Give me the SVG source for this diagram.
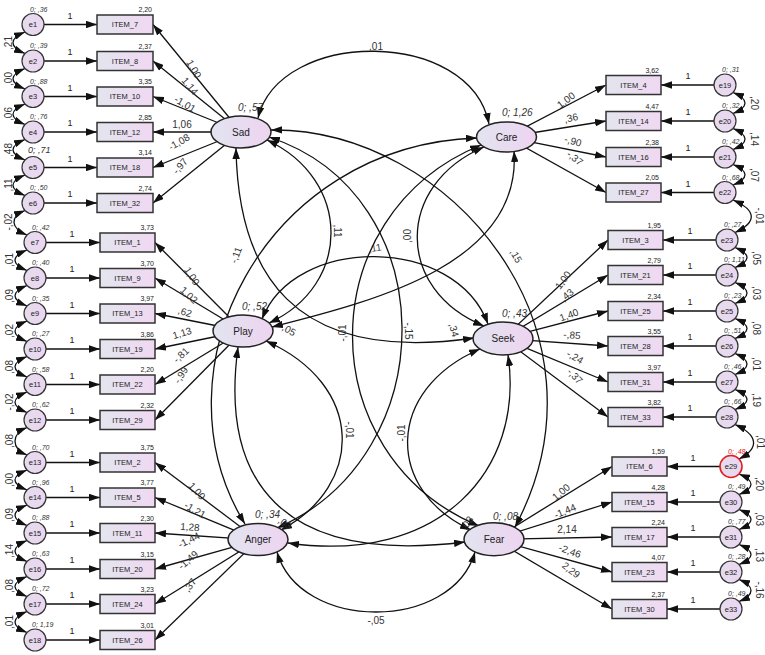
<svg xmlns="http://www.w3.org/2000/svg" width="765" height="655" viewBox="0 0 765 655">
<style>
.t{font-family:"Liberation Sans",Arial,sans-serif;fill:#222}
.it{font-size:7.5px;text-anchor:middle}
.ic{font-size:7px;text-anchor:end}
.en{font-size:7.5px;text-anchor:middle}
.ev{font-size:7px;font-style:italic;fill:#333}
.lv{font-size:10px;font-style:italic;fill:#333}
.ln{font-size:10px;text-anchor:middle}
.lb{font-size:10px;text-anchor:middle;fill:#333}
.one{font-size:9px;text-anchor:middle}
.item{fill:url(#gi);stroke:#333;stroke-width:1.5}
.lat{fill:url(#gl);stroke:#222;stroke-width:1.5}
.err{fill:url(#ge);stroke:#333;stroke-width:1.2}
.c{fill:none;stroke:#111;stroke-width:1.3;marker-end:url(#ah)}
.cv{fill:none;stroke:#111;stroke-width:1.3;marker-start:url(#ah);marker-end:url(#ah)}
</style>
<defs>
<linearGradient id="gi" x1="0" x2="1" y1="0" y2="0"><stop offset="0" stop-color="#e3e5ee"/><stop offset="1" stop-color="#f0d8f2"/></linearGradient>
<linearGradient id="gl" x1="0" x2="1" y1="0" y2="0"><stop offset="0" stop-color="#e2e4f0"/><stop offset="1" stop-color="#eed4f0"/></linearGradient>
<linearGradient id="ge" x1="0" x2="1" y1="0" y2="0"><stop offset="0" stop-color="#e4dcee"/><stop offset="1" stop-color="#ecd6f0"/></linearGradient>
<marker id="ah" viewBox="0 0 11 7.5" refX="11" refY="3.75" markerWidth="11" markerHeight="7.5" markerUnits="userSpaceOnUse" orient="auto-start-reverse"><path d="M0,0L11,3.75L0,7.5z" fill="#111"/></marker>
</defs>
<rect width="765" height="655" fill="#fff"/>
<g id="connectors">
<path class="c" d="M241,132L153,24.5"/><path class="c" d="M241,132L153,61"/><path class="c" d="M241,132L153,96.5"/><path class="c" d="M241,132L153,132"/><path class="c" d="M241,132L153,167.5"/><path class="c" d="M241,132L153,203"/>
<path class="c" d="M243,331L155,242.5"/><path class="c" d="M243,331L155,278"/><path class="c" d="M243,331L155,313.5"/><path class="c" d="M243,331L155,349"/><path class="c" d="M243,331L155,384.5"/><path class="c" d="M243,331L155,420"/>
<path class="c" d="M258,540L155,462.5"/><path class="c" d="M258,540L155,497.5"/><path class="c" d="M258,540L155,533"/><path class="c" d="M258,540L155,569"/><path class="c" d="M258,540L155,604"/><path class="c" d="M258,540L155,640"/>
<path class="c" d="M506.5,137L606,85"/><path class="c" d="M506.5,137L606,121"/><path class="c" d="M506.5,137L606,157"/><path class="c" d="M506.5,137L606,192.5"/>
<path class="c" d="M503,338.5L608,240"/><path class="c" d="M503,338.5L608,275"/><path class="c" d="M503,338.5L608,311"/><path class="c" d="M503,338.5L608,346"/><path class="c" d="M503,338.5L608,382"/><path class="c" d="M503,338.5L608,417"/>
<path class="c" d="M494,539.3L612,466.5"/><path class="c" d="M494,539.3L612,502"/><path class="c" d="M494,539.3L612,537"/><path class="c" d="M494,539.3L612,572"/><path class="c" d="M494,539.3L612,609"/>
<path class="c" d="M44,24.5L97,24.5"/><path class="c" d="M44,61L97,61"/><path class="c" d="M44,96.5L97,96.5"/><path class="c" d="M44,132L97,132"/><path class="c" d="M44,167.5L97,167.5"/><path class="c" d="M44,203L97,203"/>
<path class="c" d="M46,242.5L100,242.5"/><path class="c" d="M46,278L100,278"/><path class="c" d="M46,313.5L100,313.5"/><path class="c" d="M46,349L100,349"/><path class="c" d="M46,384.5L100,384.5"/><path class="c" d="M46,420L100,420"/>
<path class="c" d="M46,462.5L100,462.5"/><path class="c" d="M46,497.5L100,497.5"/><path class="c" d="M46,533L100,533"/><path class="c" d="M46,569L100,569"/><path class="c" d="M46,604L100,604"/><path class="c" d="M46,640L100,640"/>
<path class="c" d="M714,85L661,85"/><path class="c" d="M714,121L661,121"/><path class="c" d="M714,157L661,157"/><path class="c" d="M714,192.5L661,192.5"/>
<path class="c" d="M716,240L663,240"/><path class="c" d="M716,275L663,275"/><path class="c" d="M716,311L663,311"/><path class="c" d="M716,346L663,346"/><path class="c" d="M716,382L663,382"/><path class="c" d="M716,417L663,417"/>
<path class="c" d="M720,466.5L667,466.5"/><path class="c" d="M720,502L667,502"/><path class="c" d="M720,537L667,537"/><path class="c" d="M720,572L667,572"/><path class="c" d="M720,609L667,609"/>
<path class="cv" d="M258,118C280,28 470,28 489,124"/>
<path class="cv" d="M277,552C300,632 452,632 475,552"/>
<path class="cv" d="M267,140C352,180 352,285 269,323"/>
<path class="cv" d="M484,147C395,185 395,290 484,326"/>
<path class="cv" d="M266,341C365,385 365,485 281,530"/>
<path class="cv" d="M480,349C385,390 385,490 471,530"/>
<path class="cv" d="M269,137C445,195 445,455 277,528"/>
<path class="cv" d="M481,145C310,215 310,455 479,526"/>
<path class="cv" d="M262,319C295,235 455,235 488,324"/>
<path class="cv" d="M236,148C238,270 290,365 474,338"/>
<path class="cv" d="M514,151C522,262 380,300 272,327"/>
<path class="cv" d="M238,347C220,480 280,565 465,542"/>
<path class="cv" d="M508,355C525,470 440,565 288,543"/>
<path class="cv" d="M271,130C450,128 620,330 515,527"/>
<path class="cv" d="M477,138C265,145 150,370 245,524"/>
<path class="cv" d="M25,32C9,38.5 9,47 25,53.5"/>
<path class="cv" d="M25,68.5C9,75 9,82.5 25,89"/>
<path class="cv" d="M25,104C9,110.5 9,118 25,124.5"/>
<path class="cv" d="M25,139.5C9,146 9,153.5 25,160"/>
<path class="cv" d="M25,175C9,181.5 9,189 25,195.5"/>
<path class="cv" d="M25,210.5C9,217 11,228.5 27,235"/>
<path class="cv" d="M27,250C11,256.5 11,264 27,270.5"/>
<path class="cv" d="M27,285.5C11,292 11,299.5 27,306"/>
<path class="cv" d="M27,321C11,327.5 11,335 27,341.5"/>
<path class="cv" d="M27,356.5C11,363 11,370.5 27,377"/>
<path class="cv" d="M27,392C11,398.5 11,406 27,412.5"/>
<path class="cv" d="M27,427.5C11,434 11,448.5 27,455"/>
<path class="cv" d="M27,470C11,476.5 11,483.5 27,490"/>
<path class="cv" d="M27,505C11,511.5 11,519 27,525.5"/>
<path class="cv" d="M27,540.5C11,547 11,555 27,561.5"/>
<path class="cv" d="M27,576.5C11,583 11,590 27,596.5"/>
<path class="cv" d="M27,611.5C11,618 11,626 27,632.5"/>
<path class="cv" d="M733,92.5C749,99 749,107 733,113.5"/>
<path class="cv" d="M733,128.5C749,135 749,143 733,149.5"/>
<path class="cv" d="M733,164.5C749,171 749,178.5 733,185"/>
<path class="cv" d="M733,200C756,210 758,222 735,232.5"/>
<path class="cv" d="M735,247.5C751,254 751,261 735,267.5"/>
<path class="cv" d="M735,282.5C751,289 751,297 735,303.5"/>
<path class="cv" d="M735,318.5C751,325 751,332 735,338.5"/>
<path class="cv" d="M735,353.5C751,360 751,368 735,374.5"/>
<path class="cv" d="M735,389.5C751,396 751,403 735,409.5"/>
<path class="cv" d="M735,424.5C758,435 760,448 739,459"/>
<path class="cv" d="M739,474C755,480.5 755,488 739,494.5"/>
<path class="cv" d="M739,509.5C755,516 755,523 739,529.5"/>
<path class="cv" d="M739,544.5C755,551 755,558 739,564.5"/>
<path class="cv" d="M739,579.5C755,586 755,595 739,601.5"/>
</g>
<g id="connector-labels">
<g class="t one"><text x="70" y="18.5">1</text><text x="70" y="55">1</text><text x="70" y="90.5">1</text><text x="70" y="126">1</text><text x="70" y="161.5">1</text><text x="70" y="197">1</text>
<text x="72" y="236.5">1</text><text x="72" y="272">1</text><text x="72" y="307.5">1</text><text x="72" y="343">1</text><text x="72" y="378.5">1</text><text x="72" y="414">1</text>
<text x="72" y="456.5">1</text><text x="72" y="491.5">1</text><text x="72" y="527">1</text><text x="72" y="563">1</text><text x="72" y="598">1</text><text x="72" y="634">1</text>
<text x="688" y="79">1</text><text x="688" y="115">1</text><text x="688" y="151">1</text><text x="688" y="186.5">1</text>
<text x="690" y="234">1</text><text x="690" y="269">1</text><text x="690" y="305">1</text><text x="690" y="340">1</text><text x="690" y="376">1</text><text x="690" y="411">1</text>
<text x="693" y="460.5">1</text><text x="693" y="496">1</text><text x="693" y="531">1</text><text x="693" y="566">1</text><text x="693" y="603">1</text></g>
<g class="t lb">
<text transform="translate(194,69) rotate(60)" y="3.5">1,00</text>
<text transform="translate(190,86) rotate(50)" y="3.5">1,14</text>
<text transform="translate(185,104) rotate(30)" y="3.5">-1,01</text>
<text transform="translate(182,124)" y="3.5">1,06</text>
<text transform="translate(179,142) rotate(-30)" y="3.5">-1,08</text>
<text transform="translate(180,166) rotate(-50)" y="3.5">-,97</text>
<text transform="translate(192,276) rotate(57)" y="3.5">1,00</text>
<text transform="translate(189,295) rotate(42)" y="3.5">1,02</text>
<text transform="translate(185,312) rotate(17)" y="3.5">,62</text>
<text transform="translate(182,333) rotate(-17)" y="3.5">1,13</text>
<text transform="translate(181,355) rotate(-43)" y="3.5">-,81</text>
<text transform="translate(181,375) rotate(-57)" y="3.5">-,99</text>
<text transform="translate(197,491) rotate(47)" y="3.5">1,00</text>
<text transform="translate(195,510) rotate(30)" y="3.5">-1,21</text>
<text transform="translate(190,527) rotate(5)" y="3.5">1,28</text>
<text transform="translate(189,540) rotate(-26)" y="3.5">-1,44</text>
<text transform="translate(188,560) rotate(-41)" y="3.5">-1,49</text>
<text transform="translate(190,585) rotate(-53)" y="3.5">,37</text>
<text transform="translate(566,100) rotate(-37)" y="3.5">1,00</text>
<text transform="translate(571,118) rotate(-13)" y="3.5">,36</text>
<text transform="translate(573,141) rotate(16)" y="3.5">-,90</text>
<text transform="translate(575,158) rotate(38)" y="3.5">-,37</text>
<text transform="translate(563,280) rotate(-53)" y="3.5">1,00</text>
<text transform="translate(567,295) rotate(-40)" y="3.5">,43</text>
<text transform="translate(569,315) rotate(-20)" y="3.5">1,40</text>
<text transform="translate(572,335) rotate(5)" y="3.5">-,85</text>
<text transform="translate(575,357) rotate(30)" y="3.5">-,24</text>
<text transform="translate(575,376) rotate(46)" y="3.5">-,37</text>
<text transform="translate(561,492) rotate(-40)" y="3.5">1,00</text>
<text transform="translate(565,511) rotate(-23)" y="3.5">-1,44</text>
<text transform="translate(567,529)" y="3.5">2,14</text>
<text transform="translate(570,551) rotate(20)" y="3.5">-2,46</text>
<text transform="translate(571,570) rotate(38)" y="3.5">2,29</text>
<text x="376" y="50">,01</text>
<text x="376" y="624">-,05</text>
<text transform="translate(337,231) rotate(90)" y="3.5">,11</text>
<text transform="translate(375,248) rotate(-10)" y="3.5">,11</text>
<text transform="translate(407,236) rotate(-90)" y="3.5">,00</text>
<text transform="translate(408,331) rotate(90)" y="3.5">-,15</text>
<text transform="translate(342,333) rotate(-90)" y="3.5">-,01</text>
<text transform="translate(349,430) rotate(90)" y="3.5">-,01</text>
<text transform="translate(401,433) rotate(-90)" y="3.5">-,01</text>
<text transform="translate(289,330) rotate(30)" y="3.5">,05</text>
<text transform="translate(454,330) rotate(75)" y="3.5">,34</text>
<text transform="translate(285,523) rotate(35)" y="3.5">,03</text>
<text transform="translate(467,523) rotate(-55)" y="3.5">,03</text>
<text transform="translate(236,255) rotate(-70)" y="3.5">-,11</text>
<text transform="translate(516,256) rotate(60)" y="3.5">,15</text>
<text transform="translate(8,43) rotate(-90)" y="3.5">,21</text>
<text transform="translate(8,79) rotate(-90)" y="3.5">,00</text>
<text transform="translate(8,114) rotate(-90)" y="3.5">,06</text>
<text transform="translate(8,150) rotate(-90)" y="3.5">,48</text>
<text transform="translate(8,185) rotate(-90)" y="3.5">,11</text>
<text transform="translate(8,222) rotate(-90)" y="3.5">-,02</text>
<text transform="translate(9,260) rotate(-90)" y="3.5">,01</text>
<text transform="translate(9,296) rotate(-90)" y="3.5">,09</text>
<text transform="translate(9,331) rotate(-90)" y="3.5">,02</text>
<text transform="translate(9,367) rotate(-90)" y="3.5">,08</text>
<text transform="translate(9,402) rotate(-90)" y="3.5">-,02</text>
<text transform="translate(9,441) rotate(-90)" y="3.5">,08</text>
<text transform="translate(9,480) rotate(-90)" y="3.5">,00</text>
<text transform="translate(9,515) rotate(-90)" y="3.5">,09</text>
<text transform="translate(9,551) rotate(-90)" y="3.5">,14</text>
<text transform="translate(9,586) rotate(-90)" y="3.5">,08</text>
<text transform="translate(9,622) rotate(-90)" y="3.5">,01</text>
<text transform="translate(754,103) rotate(90)" y="3.5">,20</text>
<text transform="translate(754,139) rotate(90)" y="3.5">,14</text>
<text transform="translate(754,175) rotate(90)" y="3.5">,07</text>
<text transform="translate(759,216) rotate(90)" y="3.5">-,01</text>
<text transform="translate(756,258) rotate(90)" y="3.5">,05</text>
<text transform="translate(756,293) rotate(90)" y="3.5">,03</text>
<text transform="translate(756,328) rotate(90)" y="3.5">,08</text>
<text transform="translate(756,364) rotate(90)" y="3.5">,01</text>
<text transform="translate(756,400) rotate(90)" y="3.5">,19</text>
<text transform="translate(760,442) rotate(90)" y="3.5">,01</text>
<text transform="translate(759,484) rotate(90)" y="3.5">,20</text>
<text transform="translate(759,519) rotate(90)" y="3.5">,03</text>
<text transform="translate(759,555) rotate(90)" y="3.5">,13</text>
<text transform="translate(759,590) rotate(90)" y="3.5">-,16</text>
</g>
</g>
<g id="Sad"><ellipse class="lat" cx="241" cy="132" rx="30" ry="16"/><text class="t ln" x="241" y="135.5">Sad</text><text class="t lv" x="238" y="111">0; ,57</text></g>
<g id="Care"><ellipse class="lat" cx="506.5" cy="137" rx="30" ry="15"/><text class="t ln" x="506.5" y="140.5">Care</text><text class="t lv" x="502" y="116">0; 1,26</text></g>
<g id="Play"><ellipse class="lat" cx="243" cy="331" rx="30" ry="16"/><text class="t ln" x="243" y="334.5">Play</text><text class="t lv" x="242" y="310">0; ,52</text></g>
<g id="Seek"><ellipse class="lat" cx="503" cy="338.5" rx="30" ry="16.5"/><text class="t ln" x="503" y="342">Seek</text><text class="t lv" x="502" y="317">0; ,43</text></g>
<g id="Anger"><ellipse class="lat" cx="258" cy="539.5" rx="30" ry="16"/><text class="t ln" x="258" y="543">Anger</text><text class="t lv" x="255" y="518">0; ,34</text></g>
<g id="Fear"><ellipse class="lat" cx="494" cy="539.3" rx="30" ry="16.5"/><text class="t ln" x="494" y="543">Fear</text><text class="t lv" x="493" y="520">0; ,08</text></g>
<g id="ITEM_7"><rect class="item" x="97" y="15" width="56" height="19"/><text class="t it" x="125" y="27.2">ITEM_7</text><text class="t ic" x="152" y="12">2,20</text></g>
<g id="ITEM_8"><rect class="item" x="97" y="51.5" width="56" height="19"/><text class="t it" x="125" y="63.7">ITEM_8</text><text class="t ic" x="152" y="48.5">2,37</text></g>
<g id="ITEM_10"><rect class="item" x="97" y="87" width="56" height="19"/><text class="t it" x="125" y="99.2">ITEM_10</text><text class="t ic" x="152" y="84">3,35</text></g>
<g id="ITEM_12"><rect class="item" x="97" y="122.5" width="56" height="19"/><text class="t it" x="125" y="134.7">ITEM_12</text><text class="t ic" x="152" y="119.5">2,85</text></g>
<g id="ITEM_18"><rect class="item" x="97" y="158" width="56" height="19"/><text class="t it" x="125" y="170.2">ITEM_18</text><text class="t ic" x="152" y="155">3,14</text></g>
<g id="ITEM_32"><rect class="item" x="97" y="193.5" width="56" height="19"/><text class="t it" x="125" y="205.7">ITEM_32</text><text class="t ic" x="152" y="190.5">2,74</text></g>
<g id="ITEM_1"><rect class="item" x="100" y="233" width="55" height="19"/><text class="t it" x="127.5" y="245.2">ITEM_1</text><text class="t ic" x="154" y="230">3,73</text></g>
<g id="ITEM_9"><rect class="item" x="100" y="268.5" width="55" height="19"/><text class="t it" x="127.5" y="280.7">ITEM_9</text><text class="t ic" x="154" y="265.5">3,70</text></g>
<g id="ITEM_13"><rect class="item" x="100" y="304" width="55" height="19"/><text class="t it" x="127.5" y="316.2">ITEM_13</text><text class="t ic" x="154" y="301">3,97</text></g>
<g id="ITEM_19"><rect class="item" x="100" y="339.5" width="55" height="19"/><text class="t it" x="127.5" y="351.7">ITEM_19</text><text class="t ic" x="154" y="336.5">3,86</text></g>
<g id="ITEM_22"><rect class="item" x="100" y="375" width="55" height="19"/><text class="t it" x="127.5" y="387.2">ITEM_22</text><text class="t ic" x="154" y="372">2,20</text></g>
<g id="ITEM_29"><rect class="item" x="100" y="410.5" width="55" height="19"/><text class="t it" x="127.5" y="422.7">ITEM_29</text><text class="t ic" x="154" y="407.5">2,32</text></g>
<g id="ITEM_2"><rect class="item" x="100" y="453" width="55" height="19"/><text class="t it" x="127.5" y="465.2">ITEM_2</text><text class="t ic" x="154" y="450">3,75</text></g>
<g id="ITEM_5"><rect class="item" x="100" y="488" width="55" height="19"/><text class="t it" x="127.5" y="500.2">ITEM_5</text><text class="t ic" x="154" y="485">3,77</text></g>
<g id="ITEM_11"><rect class="item" x="100" y="523.5" width="55" height="19"/><text class="t it" x="127.5" y="535.7">ITEM_11</text><text class="t ic" x="154" y="520.5">2,30</text></g>
<g id="ITEM_20"><rect class="item" x="100" y="559.5" width="55" height="19"/><text class="t it" x="127.5" y="571.7">ITEM_20</text><text class="t ic" x="154" y="556.5">3,15</text></g>
<g id="ITEM_24"><rect class="item" x="100" y="594.5" width="55" height="19"/><text class="t it" x="127.5" y="606.7">ITEM_24</text><text class="t ic" x="154" y="591.5">3,23</text></g>
<g id="ITEM_26"><rect class="item" x="100" y="630.5" width="55" height="19"/><text class="t it" x="127.5" y="642.7">ITEM_26</text><text class="t ic" x="154" y="627.5">3,01</text></g>
<g id="ITEM_4"><rect class="item" x="606" y="75.5" width="55" height="19"/><text class="t it" x="633.5" y="87.7">ITEM_4</text><text class="t ic" x="659" y="72.5">3,62</text></g>
<g id="ITEM_14"><rect class="item" x="606" y="111.5" width="55" height="19"/><text class="t it" x="633.5" y="123.7">ITEM_14</text><text class="t ic" x="659" y="108.5">4,47</text></g>
<g id="ITEM_16"><rect class="item" x="606" y="147.5" width="55" height="19"/><text class="t it" x="633.5" y="159.7">ITEM_16</text><text class="t ic" x="659" y="144.5">2,38</text></g>
<g id="ITEM_27"><rect class="item" x="606" y="183" width="55" height="19"/><text class="t it" x="633.5" y="195.2">ITEM_27</text><text class="t ic" x="659" y="180">2,05</text></g>
<g id="ITEM_3"><rect class="item" x="608" y="230.5" width="55" height="19"/><text class="t it" x="635.5" y="242.7">ITEM_3</text><text class="t ic" x="661" y="227.5">1,95</text></g>
<g id="ITEM_21"><rect class="item" x="608" y="265.5" width="55" height="19"/><text class="t it" x="635.5" y="277.7">ITEM_21</text><text class="t ic" x="661" y="262.5">2,79</text></g>
<g id="ITEM_25"><rect class="item" x="608" y="301.5" width="55" height="19"/><text class="t it" x="635.5" y="313.7">ITEM_25</text><text class="t ic" x="661" y="298.5">2,34</text></g>
<g id="ITEM_28"><rect class="item" x="608" y="336.5" width="55" height="19"/><text class="t it" x="635.5" y="348.7">ITEM_28</text><text class="t ic" x="661" y="333.5">3,55</text></g>
<g id="ITEM_31"><rect class="item" x="608" y="372.5" width="55" height="19"/><text class="t it" x="635.5" y="384.7">ITEM_31</text><text class="t ic" x="661" y="369.5">3,97</text></g>
<g id="ITEM_33"><rect class="item" x="608" y="407.5" width="55" height="19"/><text class="t it" x="635.5" y="419.7">ITEM_33</text><text class="t ic" x="661" y="404.5">3,82</text></g>
<g id="ITEM_6"><rect class="item" x="612" y="457" width="55" height="19"/><text class="t it" x="639.5" y="469.2">ITEM_6</text><text class="t ic" x="665" y="454">1,59</text></g>
<g id="ITEM_15"><rect class="item" x="612" y="492.5" width="55" height="19"/><text class="t it" x="639.5" y="504.7">ITEM_15</text><text class="t ic" x="665" y="489.5">4,28</text></g>
<g id="ITEM_17"><rect class="item" x="612" y="527.5" width="55" height="19"/><text class="t it" x="639.5" y="539.7">ITEM_17</text><text class="t ic" x="665" y="524.5">2,24</text></g>
<g id="ITEM_23"><rect class="item" x="612" y="562.5" width="55" height="19"/><text class="t it" x="639.5" y="574.7">ITEM_23</text><text class="t ic" x="665" y="559.5">4,07</text></g>
<g id="ITEM_30"><rect class="item" x="612" y="599.5" width="55" height="19"/><text class="t it" x="639.5" y="611.7">ITEM_30</text><text class="t ic" x="665" y="596.5">2,37</text></g>
<g id="e1"><circle class="err" cx="33" cy="24.5" r="11"/><text class="t en" x="33" y="27">e1</text><text class="t ev" x="30" y="11.5">0; ,36</text></g>
<g id="e2"><circle class="err" cx="33" cy="61" r="11"/><text class="t en" x="33" y="63.5">e2</text><text class="t ev" x="30" y="48">0; ,39</text></g>
<g id="e3"><circle class="err" cx="33" cy="96.5" r="11"/><text class="t en" x="33" y="99">e3</text><text class="t ev" x="30" y="83.5">0; ,88</text></g>
<g id="e4"><circle class="err" cx="33" cy="132" r="11"/><text class="t en" x="33" y="134.5">e4</text><text class="t ev" x="30" y="119">0; ,76</text></g>
<g id="e5"><circle class="err" cx="33" cy="167.5" r="11"/><text class="t en" x="33" y="170">e5</text><text class="t ev" x="28" y="153" style="font-size:9px">0; ,71</text></g>
<g id="e6"><circle class="err" cx="33" cy="203" r="11"/><text class="t en" x="33" y="205.5">e6</text><text class="t ev" x="30" y="190">0; ,50</text></g>
<g id="e7"><circle class="err" cx="35" cy="242.5" r="11"/><text class="t en" x="35" y="245">e7</text><text class="t ev" x="32" y="229.5">0; ,42</text></g>
<g id="e8"><circle class="err" cx="35" cy="278" r="11"/><text class="t en" x="35" y="280.5">e8</text><text class="t ev" x="32" y="265">0; ,40</text></g>
<g id="e9"><circle class="err" cx="35" cy="313.5" r="11"/><text class="t en" x="35" y="316">e9</text><text class="t ev" x="32" y="300.5">0; ,35</text></g>
<g id="e10"><circle class="err" cx="35" cy="349" r="11"/><text class="t en" x="35" y="351.5">e10</text><text class="t ev" x="32" y="336">0; ,27</text></g>
<g id="e11"><circle class="err" cx="35" cy="384.5" r="11"/><text class="t en" x="35" y="387">e11</text><text class="t ev" x="32" y="371.5">0; ,58</text></g>
<g id="e12"><circle class="err" cx="35" cy="420" r="11"/><text class="t en" x="35" y="422.5">e12</text><text class="t ev" x="32" y="407">0; ,62</text></g>
<g id="e13"><circle class="err" cx="35" cy="462.5" r="11"/><text class="t en" x="35" y="465">e13</text><text class="t ev" x="32" y="449.5">0; ,70</text></g>
<g id="e14"><circle class="err" cx="35" cy="497.5" r="11"/><text class="t en" x="35" y="500">e14</text><text class="t ev" x="32" y="484.5">0; ,96</text></g>
<g id="e15"><circle class="err" cx="35" cy="533" r="11"/><text class="t en" x="35" y="535.5">e15</text><text class="t ev" x="32" y="520">0; ,88</text></g>
<g id="e16"><circle class="err" cx="35" cy="569" r="11"/><text class="t en" x="35" y="571.5">e16</text><text class="t ev" x="32" y="556">0; ,63</text></g>
<g id="e17"><circle class="err" cx="35" cy="604" r="11"/><text class="t en" x="35" y="606.5">e17</text><text class="t ev" x="32" y="591">0; ,72</text></g>
<g id="e18"><circle class="err" cx="35" cy="640" r="11"/><text class="t en" x="35" y="642.5">e18</text><text class="t ev" x="32" y="627">0; 1,19</text></g>
<g id="e19"><circle class="err" cx="725" cy="85" r="11"/><text class="t en" x="725" y="87.5">e19</text><text class="t ev" x="722" y="72">0; ,31</text></g>
<g id="e20"><circle class="err" cx="725" cy="121" r="11"/><text class="t en" x="725" y="123.5">e20</text><text class="t ev" x="722" y="108">0; ,32</text></g>
<g id="e21"><circle class="err" cx="725" cy="157" r="11"/><text class="t en" x="725" y="159.5">e21</text><text class="t ev" x="722" y="144">0; ,42</text></g>
<g id="e22"><circle class="err" cx="725" cy="192.5" r="11"/><text class="t en" x="725" y="195">e22</text><text class="t ev" x="722" y="179.5">0; ,68</text></g>
<g id="e23"><circle class="err" cx="727" cy="240" r="11"/><text class="t en" x="727" y="242.5">e23</text><text class="t ev" x="724" y="227">0; ,27</text></g>
<g id="e24"><circle class="err" cx="727" cy="275" r="11"/><text class="t en" x="727" y="277.5">e24</text><text class="t ev" x="724" y="262">0; 1,11</text></g>
<g id="e25"><circle class="err" cx="727" cy="311" r="11"/><text class="t en" x="727" y="313.5">e25</text><text class="t ev" x="724" y="298">0; ,23</text></g>
<g id="e26"><circle class="err" cx="727" cy="346" r="11"/><text class="t en" x="727" y="348.5">e26</text><text class="t ev" x="724" y="333">0; ,51</text></g>
<g id="e27"><circle class="err" cx="727" cy="382" r="11"/><text class="t en" x="727" y="384.5">e27</text><text class="t ev" x="724" y="369">0; ,46</text></g>
<g id="e28"><circle class="err" cx="727" cy="417" r="11"/><text class="t en" x="727" y="419.5">e28</text><text class="t ev" x="724" y="404">0; ,66</text></g>
<g id="e29"><circle class="err" cx="731" cy="466.5" r="11" style="stroke:#e02020;stroke-width:1.6"/><text class="t en" x="731" y="469">e29</text><text class="t ev" x="728" y="453.5" style="fill:#e02020">0; ,48</text></g>
<g id="e30"><circle class="err" cx="731" cy="502" r="11"/><text class="t en" x="731" y="504.5">e30</text><text class="t ev" x="728" y="489">0; ,49</text></g>
<g id="e31"><circle class="err" cx="731" cy="537" r="11"/><text class="t en" x="731" y="539.5">e31</text><text class="t ev" x="728" y="524">0; ,77</text></g>
<g id="e32"><circle class="err" cx="731" cy="572" r="11"/><text class="t en" x="731" y="574.5">e32</text><text class="t ev" x="728" y="559">0; ,28</text></g>
<g id="e33"><circle class="err" cx="731" cy="609" r="11"/><text class="t en" x="731" y="611.5">e33</text><text class="t ev" x="728" y="596">0; ,49</text></g>
</svg>
